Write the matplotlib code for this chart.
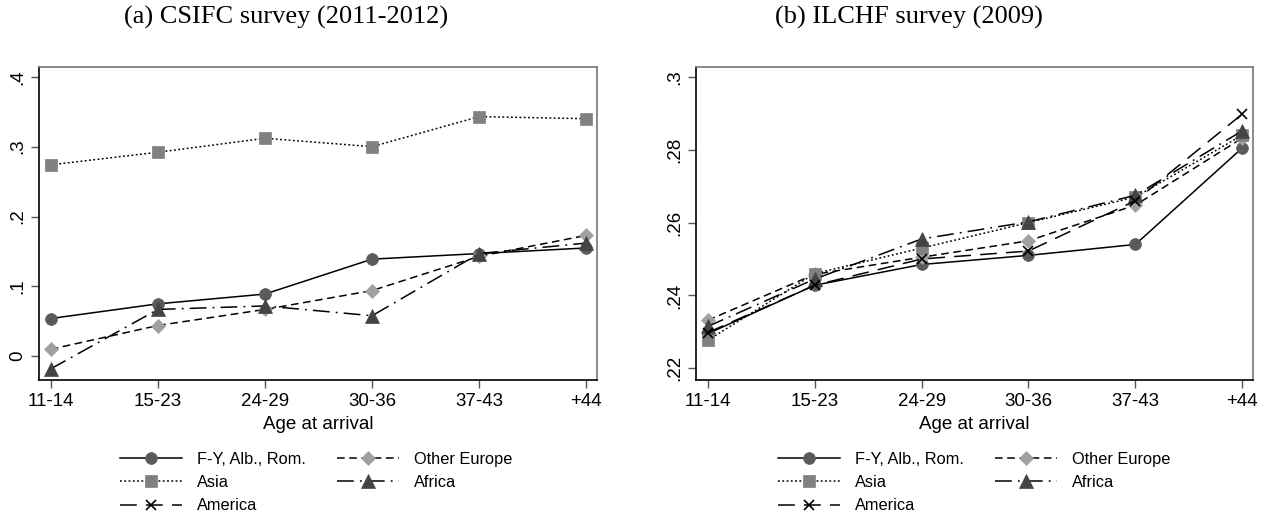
import numpy as np
import matplotlib.pyplot as plt
from matplotlib.ticker import FixedLocator, FixedFormatter

# Age groups on the x axis
age_groups = ["11-14", "15-23", "24-29", "30-36", "37-43", "+44"]

# (a) CSIFC survey (2011-2012)
fy_a = [0.054, 0.075, 0.089, 0.139, 0.147, 0.155]
oeur_a = [0.010, 0.044, 0.067, 0.094, 0.143, 0.173]
asia_a = [0.274, 0.292, 0.312, 0.300, 0.343, 0.340]
africa_a = [-0.018, 0.067, 0.072, 0.058, 0.147, 0.162]
america_a = [np.nan] * 6  # not reported in this survey

# (b) ILCHF survey (2009)
fy_b = [0.2295, 0.2428, 0.2485, 0.2510, 0.2540, 0.2805]
oeur_b = [0.2332, 0.2458, 0.2505, 0.2550, 0.2648, 0.2832]
asia_b = [0.2277, 0.2460, 0.2530, 0.2600, 0.2670, 0.2840]
africa_b = [0.2315, 0.2445, 0.2555, 0.2602, 0.2675, 0.2852]
america_b = [0.2298, 0.2428, 0.2500, 0.2522, 0.2660, 0.2898]

yticks_a = [0, 0.1, 0.2, 0.3, 0.4]
ylabels_a = ["0", ".1", ".2", ".3", ".4"]
yticks_b = [0.22, 0.24, 0.26, 0.28, 0.30]
ylabels_b = [".22", ".24", ".26", ".28", ".3"]

series_names = ["F-Y, Alb., Rom.", "Other Europe", "Asia", "Africa", "America"]

# style per series: marker, marker colour, marker size, dash pattern
styles = [
    dict(marker="o", color="#5a5a5a", ms=8.5, dashes=None),
    dict(marker="D", color="#a0a0a0", ms=7.5, dashes=(5, 3)),
    dict(marker="s", color="#808080", ms=8.5, dashes=(1.2, 1.6)),
    dict(marker="^", color="#444444", ms=9.5, dashes=(11, 4, 1.2, 4)),
    dict(marker="x", color="#000000", ms=7.5, dashes=(11, 6)),
]

sans = "Liberation Sans"
serif = "Liberation Serif"

fig = plt.figure(figsize=(12.76, 5.19), dpi=100)


def draw_panel(ax, data, yticks, ylabels, ylim):
    x = np.arange(len(age_groups))
    handles = []
    for vals, st, name in zip(data, styles, series_names):
        line, = ax.plot(x, vals, color="black", lw=1.1,
                        marker=st["marker"], ms=st["ms"],
                        markerfacecolor=st["color"],
                        markeredgecolor=st["color"] if st["marker"] != "x" else "black",
                        markeredgewidth=1.2 if st["marker"] == "x" else 0.5,
                        label=name)
        if st["dashes"] is None:
            line.set_linestyle("-")
        else:
            line.set_dashes(st["dashes"])
        handles.append(line)
    ax.set_xlim(-0.11, 5.1)
    ax.set_ylim(*ylim)
    ax.xaxis.set_major_locator(FixedLocator(x))
    ax.xaxis.set_major_formatter(FixedFormatter(age_groups))
    ax.yaxis.set_major_locator(FixedLocator(yticks))
    ax.yaxis.set_major_formatter(FixedFormatter(ylabels))
    ax.tick_params(axis="both", length=6, width=1, color="#555555",
                   labelsize=13.5, pad=3)
    for lab in ax.get_xticklabels() + ax.get_yticklabels():
        lab.set_family(sans)
    for lab in ax.get_yticklabels():
        lab.set_rotation(90)
        lab.set_va("center")
    ax.set_xlabel("Age at arrival", fontsize=13.5, family=sans, labelpad=5)
    ax.spines["left"].set_color("black")
    ax.spines["bottom"].set_color("black")
    ax.spines["top"].set_color("#777777")
    ax.spines["right"].set_color("#777777")
    for sp in ax.spines.values():
        sp.set_linewidth(1.2)
    return handles


ax1 = fig.add_axes([39 / 1276, 1 - 380 / 519, 558 / 1276, 313 / 519])
h1 = draw_panel(ax1, [fy_a, oeur_a, asia_a, africa_a, america_a],
                yticks_a, ylabels_a, (-0.034, 0.414))

ax2 = fig.add_axes([696 / 1276, 1 - 380 / 519, 557 / 1276, 313 / 519])
h2 = draw_panel(ax2, [fy_b, oeur_b, asia_b, africa_b, america_b],
                yticks_b, ylabels_b, (0.2168, 0.3027))

fig.text(286 / 1276, 1 - 17 / 519, "(a) CSIFC survey (2011-2012)",
         ha="center", va="center", fontsize=19, family=serif)
fig.text(909 / 1276, 1 - 17 / 519, "(b) ILCHF survey (2009)",
         ha="center", va="center", fontsize=19, family=serif)

# legend order gives rows: F-Y | Other Europe, Asia | Africa, America
order = [0, 2, 4, 1, 3]
for handles, x0 in ((h1, 120), (h2, 778)):
    leg = fig.legend([handles[i] for i in order], [series_names[i] for i in order],
                     loc="upper left", bbox_to_anchor=(x0 / 1276, 1 - 452 / 519),
                     ncol=2, frameon=False, numpoints=1, handlelength=3.8,
                     handletextpad=0.9, columnspacing=1.9, labelspacing=0.5,
                     borderpad=0, borderaxespad=0,
                     prop={"family": sans, "size": 11.8})

fig.savefig("out.png", dpi=100)
